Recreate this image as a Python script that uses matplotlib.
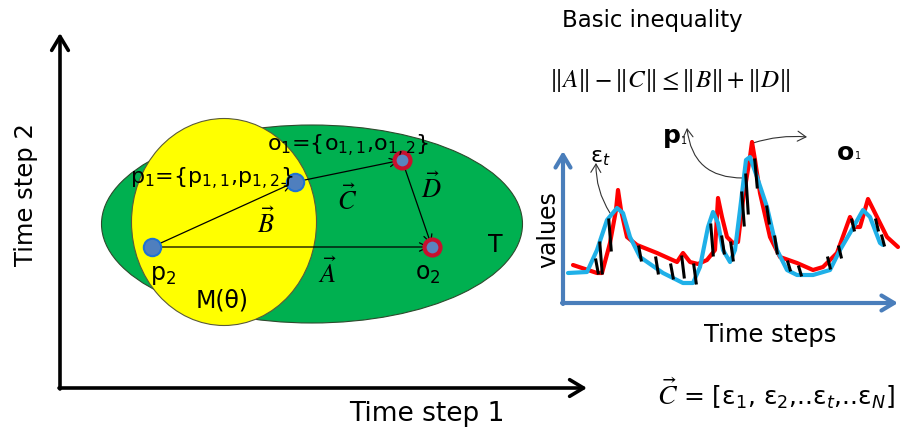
import matplotlib
matplotlib.use("Agg")
import matplotlib.pyplot as plt
from matplotlib.patches import Ellipse

# ---------------- data ----------------
# main diagram (positions in the "time step 1 / time step 2" canvas, pixel units)
p1 = (295, 182)
p2 = (152, 247)
o1 = (402, 160)
o2 = (432, 247)
set_T = dict(center=(312, 224), width=421, height=198)
set_M = dict(center=(224, 222), width=185, height=207)

# small chart: time steps and values
red_t = [10, 34, 39, 47, 53, 55, 58, 64, 74, 94, 114, 120, 127, 135, 144, 152, 155, 159, 164,
         170, 175, 180, 187, 189, 192, 197, 207, 217, 234, 250, 260, 274, 287, 292, 297, 305,
         314, 324, 335]
red_v = [38, 30, 30, 60, 93, 113, 93, 66, 58, 50, 41, 50, 41, 39, 43, 53, 105, 86, 66,
         60, 61, 103, 146, 161, 143, 110, 66, 46, 40, 33, 36, 50, 86, 76, 76, 104,
         86, 66, 56]
blue_t = [5, 24, 34, 44, 54, 60, 67, 77, 100, 120, 130, 137, 145, 150, 155, 160, 167, 172,
          177, 183, 187, 194, 204, 214, 224, 234, 250, 267, 277, 287, 300, 307, 317, 320]
blue_v = [30, 31, 53, 83, 95, 90, 66, 46, 30, 20, 20, 36, 76, 91, 80, 53, 41, 53,
          93, 143, 146, 126, 96, 53, 33, 28, 28, 33, 53, 70, 93, 86, 60, 58]
eps_t = [34, 38, 47, 77, 94, 109, 120, 132, 149, 160, 169, 180, 184, 193, 205, 213, 226, 237,
         266, 277, 290, 314, 320]
eps_top = [43, 60, 83, 56, 45, 38, 46, 38, 78, 66, 60, 110, 128, 143, 96, 66, 41, 36,
           45, 56, 83, 83, 67]
eps_bot = [30, 30, 53, 43, 30, 25, 26, 20, 48, 50, 43, 78, 90, 116, 80, 50, 33, 28,
           35, 46, 73, 73, 58]

W, H = 904, 436
fig = plt.figure(figsize=(W / 100, H / 100), dpi=100)
ax = fig.add_axes([0, 0, 1, 1])
ax.set_xlim(0, W)
ax.set_ylim(H, 0)
ax.axis("off")

SANS = "DejaVu Sans"

# main axes
ax.annotate("", xy=(60, 33), xytext=(60, 389),
            arrowprops=dict(arrowstyle="->,head_length=0.5,head_width=0.3", lw=2.6, color="black",
                            shrinkA=0, shrinkB=0, mutation_scale=20))
ax.annotate("", xy=(587, 388), xytext=(59, 388),
            arrowprops=dict(arrowstyle="->,head_length=0.5,head_width=0.3", lw=2.6, color="black",
                            shrinkA=0, shrinkB=0, mutation_scale=20))
ax.text(427, 414, "Time step 1", fontsize=19, family=SANS, ha="center", va="center")
ax.text(26, 195, "Time step 2", fontsize=17.5, family=SANS, ha="center", va="center", rotation=90)

# sets
ax.add_patch(Ellipse(set_T["center"], set_T["width"], set_T["height"], facecolor="#00b050",
                     edgecolor="#2d4a2d", lw=0.8, zorder=1))
ax.add_patch(Ellipse(set_M["center"], set_M["width"], set_M["height"], facecolor="#ffff00",
                     edgecolor="#5a5a3a", lw=0.8, zorder=2))

# vectors
def vec(a, b):
    ax.annotate("", xy=b, xytext=a,
                arrowprops=dict(arrowstyle="->,head_length=0.5,head_width=0.25", lw=0.9,
                                color="black", shrinkA=0, shrinkB=2, mutation_scale=12), zorder=3)

vec(p2, p1)
vec(p1, o1)
vec(o1, o2)
vec(p2, o2)

# points
for p in (p1, p2):
    ax.plot(*p, "o", ms=12.5, mfc="#4f7fbe", mec="#2072d2", mew=1.5, zorder=4)
for o in (o1, o2):
    ax.plot(*o, "o", ms=11.5, mfc="#5a84bf", mec="#c8102e", mew=3, zorder=4)

# labels
ax.text(130, 184, r"p$_1$={p$_{1,1}$,p$_{1,2}$}", fontsize=16, family=SANS,
        math_fontfamily="dejavusans", ha="left", va="baseline", zorder=5)
ax.text(267, 151, r"o$_1$={o$_{1,1}$,o$_{1,2}$}", fontsize=16, family=SANS,
        math_fontfamily="dejavusans", ha="left", va="baseline", zorder=5)
ax.text(150, 280, r"p$_2$", fontsize=17, family=SANS, math_fontfamily="dejavusans",
        ha="left", va="baseline", zorder=5)
ax.text(415, 280, r"o$_2$", fontsize=17, family=SANS, math_fontfamily="dejavusans",
        ha="left", va="baseline", zorder=5)
ax.text(222, 307, "M(θ)", fontsize=17, family=SANS, ha="center", va="baseline", zorder=5)
ax.text(495, 252, "T", fontsize=17, family=SANS, ha="center", va="baseline", zorder=5)

for lab, x, y in (("A", 327, 283), ("B", 266, 233), ("C", 347, 210), ("D", 431, 198)):
    ax.text(x, y, r"$\vec{%s}$" % lab, fontsize=19, math_fontfamily="stix",
            ha="center", va="baseline", zorder=5)

# right side texts
ax.text(562, 20, "Basic inequality", fontsize=16.5, family=SANS, ha="left", va="center")
ax.text(549, 80, r"$\|A\| - \|C\| \leq \|B\| + \|D\|$", fontsize=18,
        math_fontfamily="stix", ha="left", va="center")
ax.text(668, 405, r"$\vec{C}$", fontsize=20, math_fontfamily="stix", ha="center", va="baseline")
ax.text(683, 405, r"= [ε$_1$, ε$_2$,..ε$_t$,..ε$_N$]", fontsize=18, family=SANS,
        math_fontfamily="dejavusans", ha="left", va="baseline")

# small chart
sub = fig.add_axes([563 / W, (H - 303) / H, 334 / W, 150 / H])
sub.set_xlim(0, 334)
sub.set_ylim(0, 150)
sub.axis("off")
sub.patch.set_alpha(0)

axis_blue = "#4a7ebb"
sub.annotate("", xy=(0, 152), xytext=(0, -1),
             arrowprops=dict(arrowstyle="->,head_length=0.5,head_width=0.3", lw=3, color=axis_blue,
                             shrinkA=0, shrinkB=0, mutation_scale=18), annotation_clip=False)
sub.annotate("", xy=(335, 0), xytext=(-1, 0),
             arrowprops=dict(arrowstyle="->,head_length=0.5,head_width=0.3", lw=3, color=axis_blue,
                             shrinkA=0, shrinkB=0, mutation_scale=18), annotation_clip=False)

sub.plot(red_t, red_v, color="#ff0000", lw=3, clip_on=False, solid_joinstyle="round",
         solid_capstyle="round", zorder=2)
sub.plot(blue_t, blue_v, color="#1fb0e8", lw=3, clip_on=False, solid_joinstyle="round",
         solid_capstyle="round", zorder=3)
for t, a, b in zip(eps_t, eps_top, eps_bot):
    sub.plot([t - 1.2, t + 1.2], [a, b], color="black", lw=2.2, clip_on=False, zorder=4)

ax.text(548, 230, "values", fontsize=17, family=SANS, ha="center", va="center", rotation=90)
ax.text(770, 335, "Time steps", fontsize=17.5, family=SANS, ha="center", va="center")
ax.text(600, 158, r"ε$_t$", fontsize=16, family=SANS, math_fontfamily="dejavusans",
        ha="center", va="center")
ax.text(662, 138, r"$\mathbf{p}$", fontsize=18, math_fontfamily="dejavusans", ha="left",
        va="center")
ax.text(681, 141, "1", fontsize=7, family=SANS, ha="left", va="center")
ax.text(836, 153, r"$\mathbf{o}$", fontsize=18, math_fontfamily="dejavusans", ha="left",
        va="center")
ax.text(855, 156, "1", fontsize=7, family=SANS, ha="left", va="center")

thin = dict(arrowstyle="->,head_length=0.5,head_width=0.3", lw=0.8, color="#333333",
            shrinkA=0, shrinkB=0, mutation_scale=12)
ax.annotate("", xy=(596, 163), xytext=(610, 213),
            arrowprops=dict(connectionstyle="arc3,rad=-0.15", **thin))
ax.annotate("", xy=(687, 128), xytext=(743, 178),
            arrowprops=dict(connectionstyle="arc3,rad=-0.45", **thin))
ax.annotate("", xy=(807, 137), xytext=(753, 143),
            arrowprops=dict(connectionstyle="arc3,rad=-0.1", **thin))

fig.savefig("out.png", dpi=100)
